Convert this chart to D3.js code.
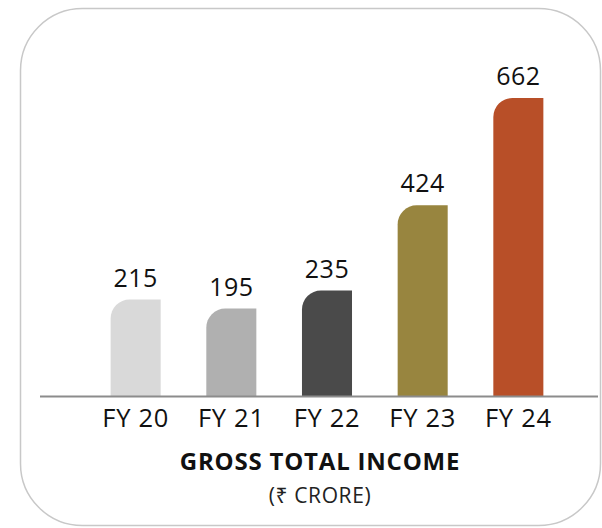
<!DOCTYPE html>
<html>
<head>
<meta charset="utf-8">
<script src="https://cdn.jsdelivr.net/npm/d3@7"></script>
<style>
  body { margin: 0; background: #fff; }
  svg { display: block; font-family: "Open Sans", "Noto Sans", sans-serif; }
</style>
</head>
<body>
<div id="chart"></div>
<script>
// data
const years = ['FY 20', 'FY 21', 'FY 22', 'FY 23', 'FY 24'];
const income = [215, 195, 235, 424, 662];
const barColors = ['#d9d9d9', '#b0b0b0', '#4a4a4a', '#98853f', '#b84f28'];
const title = 'GROSS TOTAL INCOME';
const subtitle = '(\u20B9 CRORE)';

const width = 602;
const height = 528;
const baseline = 396.5;
const radius = 19;

const svg = d3.select('#chart')
  .append('svg')
  .attr('width', width)
  .attr('height', height);

// rounded frame
svg.append('rect')
  .attr('x', 20.5)
  .attr('y', 8.5)
  .attr('width', 580)
  .attr('height', 517)
  .attr('rx', 62)
  .attr('fill', '#fff')
  .attr('stroke', '#c8c8c8')
  .attr('stroke-width', 1.5);

const xScale = d3.scaleBand()
  .domain(years)
  .range([65, 589])
  .padding(0.477);

const yScale = d3.scaleLinear()
  .domain([0, d3.max(income)])
  .range([baseline, 98]);

const data = years.map((y, i) => ({ year: y, value: income[i], color: barColors[i] }));

// bar with only the top-left corner rounded
function barPath(d) {
  const x0 = xScale(d.year);
  const x1 = x0 + xScale.bandwidth();
  const yTop = yScale(d.value);
  return 'M' + x0 + ',' + baseline +
    'L' + x0 + ',' + (yTop + radius) +
    'A' + radius + ',' + radius + ' 0 0 1 ' + (x0 + radius) + ',' + yTop +
    'L' + x1 + ',' + yTop +
    'L' + x1 + ',' + baseline + 'Z';
}

svg.selectAll('.bar')
  .data(data)
  .enter().append('path')
  .attr('class', 'bar')
  .attr('d', barPath)
  .attr('fill', d => d.color);

// value labels
svg.selectAll('.val')
  .data(data)
  .enter().append('text')
  .attr('class', 'val')
  .attr('x', d => xScale(d.year) + xScale.bandwidth() / 2)
  .attr('y', d => yScale(d.value) - 13)
  .attr('text-anchor', 'middle')
  .attr('font-size', 25)
  .attr('letter-spacing', 0.5)
  .attr('fill', '#111')
  .text(d => d.value);

// x axis (labels only, line drawn separately)
const xAxis = svg.append('g')
  .attr('transform', 'translate(0,' + baseline + ')')
  .call(d3.axisBottom(xScale).tickSize(0).tickPadding(0));
xAxis.select('.domain').remove();
xAxis.selectAll('text')
  .attr('y', 30)
  .attr('dy', null)
  .attr('font-size', 25.5)
  .attr('letter-spacing', 0.7)
  .attr('font-family', '"Open Sans", "Noto Sans", sans-serif')
  .attr('fill', '#111');

svg.append('line')
  .attr('x1', 40)
  .attr('x2', 598)
  .attr('y1', baseline)
  .attr('y2', baseline)
  .attr('stroke', '#8c8c8c')
  .attr('stroke-width', 2);

// titles
svg.append('text')
  .attr('x', 320)
  .attr('y', 469.5)
  .attr('text-anchor', 'middle')
  .attr('font-size', 24)
  .attr('font-weight', 'bold')
  .attr('letter-spacing', 0.8)
  .attr('fill', '#111')
  .text(title);

svg.append('text')
  .attr('x', 320)
  .attr('y', 503)
  .attr('text-anchor', 'middle')
  .attr('font-size', 21)
  .attr('letter-spacing', 0.6)
  .attr('fill', '#222')
  .text(subtitle);
</script>
</body>
</html>
